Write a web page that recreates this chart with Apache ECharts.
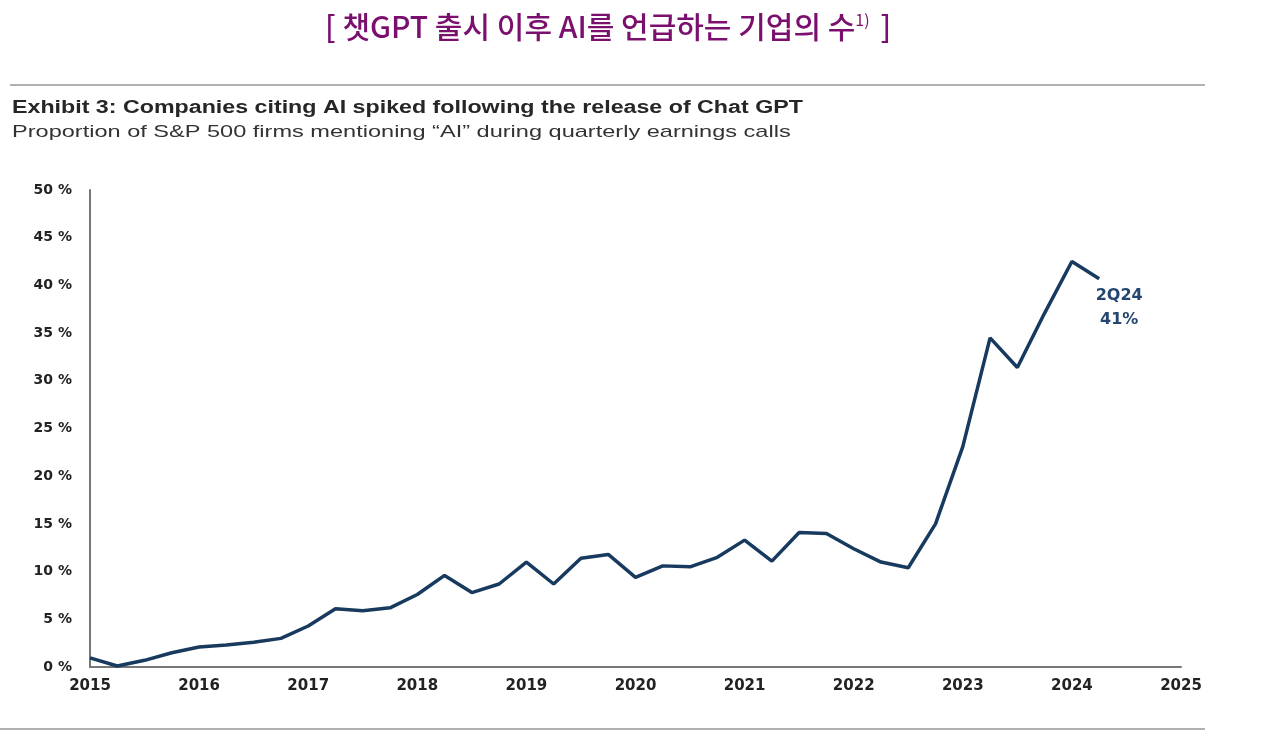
<!DOCTYPE html>
<html><head><meta charset="utf-8">
<script src="https://cdn.jsdelivr.net/npm/echarts@6/dist/echarts.min.js"></script>
<style>html,body{margin:0;padding:0;background:#fff}#c{width:1271px;height:747px}</style>
</head><body><div id="c"></div>
<script>
const quarters = ['2015Q1','2015Q2','2015Q3','2015Q4','2016Q1','2016Q2','2016Q3','2016Q4','2017Q1','2017Q2','2017Q3','2017Q4','2018Q1','2018Q2','2018Q3','2018Q4','2019Q1','2019Q2','2019Q3','2019Q4','2020Q1','2020Q2','2020Q3','2020Q4','2021Q1','2021Q2','2021Q3','2021Q4','2022Q1','2022Q2','2022Q3','2022Q4','2023Q1','2023Q2','2023Q3','2023Q4','2024Q1','2024Q2','2024Q3','2024Q4','2025Q1'];
const aiShare = [0.95,0.1,0.7,1.5, 2.1,2.3,2.6,3.0, 4.3,6.1,5.9,6.2, 7.6,9.6,7.8,8.7, 11.0,8.7,11.4,11.8, 9.4,10.6,10.5,11.5, 13.3,11.1,14.1,14.0, 12.4,11.0,10.4,15.0, 23.1,34.5,31.4,37.1, 42.5,40.7];
const yTicks = [0,5,10,15,20,25,30,35,40,45,50];
const koTitle = '[ 챗GPT 출시 이후 AI를 언급하는 기업의 수';
const exhibitTitle = 'Exhibit 3: Companies citing AI spiked following the release of Chat GPT';
const subTitle = 'Proportion of S&P 500 firms mentioning \u201CAI\u201D during quarterly earnings calls';
const annotation = ['2Q24', '41%'];

const chart = echarts.init(document.getElementById('c'), null, {renderer:'canvas'});
chart.setOption({
  animation:false,
  backgroundColor:'#fff',
  graphic:[
    {type:'text', x:325, y:12, style:{
      text: koTitle + '{sup|1)} ]',
      fill:'#7a0f6e', font:'500 30px "Noto Sans CJK KR"',
      rich:{sup:{fontSize:16, verticalAlign:'top', padding:[0,4,14,0], fill:'#7a0f6e', fontFamily:'Noto Sans CJK KR'}}
    }},
    {type:'line', shape:{x1:10,y1:85,x2:1205,y2:85}, style:{stroke:'#b0b0b0', lineWidth:2}},
    {type:'text', x:12, y:99, scaleX:1.29, style:{text:exhibitTitle, fill:'#262626', font:'bold 18px Arial, "Liberation Sans"'}},
    {type:'text', x:12, y:124, scaleX:1.385, style:{text:subTitle, fill:'#333', font:'17px Arial, "Liberation Sans"'}},
    {type:'line', shape:{x1:0,y1:729,x2:1205,y2:729}, style:{stroke:'#b0b0b0', lineWidth:2}}
  ],
  grid:{left:90, right:90, top:190, bottom:80},
  xAxis:{type:'category', data:quarters, boundaryGap:false,
    axisLine:{lineStyle:{color:'#777', width:2}}, axisTick:{show:false},
    axisLabel:{interval:3, formatter:v=>v.slice(0,4), color:'#222', fontWeight:'bold', fontSize:15, fontFamily:'"DejaVu Sans"', margin:12},
    splitLine:{show:false}},
  yAxis:{type:'value', min:yTicks[0], max:yTicks[yTicks.length-1], interval:5,
    axisLine:{show:true, lineStyle:{color:'#777', width:2}}, axisTick:{show:false},
    axisLabel:{formatter:'{value} %', color:'#222', fontWeight:'bold', fontSize:14, fontFamily:'"DejaVu Sans"', margin:18},
    splitLine:{show:false}},
  series:[{type:'line', data:aiShare, symbol:'none', lineStyle:{color:'#173a5e', width:3.5},
    markPoint:{symbol:'circle', symbolSize:0,
      data:[{coord:[quarters[aiShare.length-1], aiShare[aiShare.length-1]],
        label:{show:true, formatter:annotation.join('\n'), color:'#244670', fontWeight:'bold', fontSize:16, fontFamily:'"DejaVu Sans"', lineHeight:24, align:'center', offset:[20,29]}}]}
  }]
});
</script></body></html>
